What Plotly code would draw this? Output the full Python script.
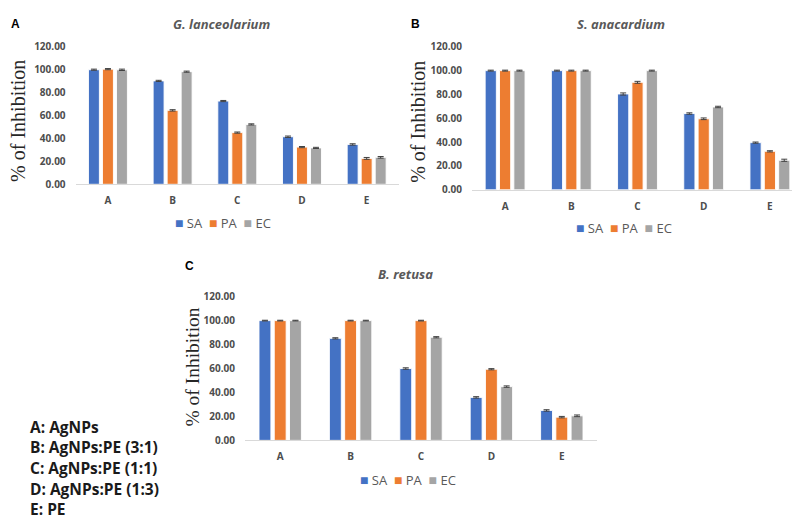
import plotly.graph_objects as go

W, H = 800, 519

categories = ["A", "B", "C", "D", "E"]
series_names = ["SA", "PA", "EC"]
colors = ["#4472C4", "#ED7D31", "#A5A5A5"]

# Panel A: G. lanceolarium
ga_sa = [99.5, 89.8, 72.3, 41.3, 34.6]
ga_pa = [100.0, 64.2, 44.9, 32.3, 22.5]
ga_ec = [99.4, 97.8, 52.0, 31.6, 23.4]
ga_err_sa = [0.5, 0.5, 0.5, 0.6, 0.6]
ga_err_pa = [0.5, 0.6, 0.5, 0.5, 0.8]
ga_err_ec = [0.6, 0.5, 0.5, 0.5, 0.7]

# Panel B: S. anacardium
sa_sa = [100.0, 100.0, 80.4, 64.0, 39.6]
sa_pa = [100.0, 100.0, 90.2, 59.6, 32.3]
sa_ec = [100.0, 100.0, 100.0, 69.5, 24.8]
sa_err_sa = [0.4, 0.4, 0.9, 0.6, 0.5]
sa_err_pa = [0.4, 0.4, 0.8, 0.7, 0.5]
sa_err_ec = [0.4, 0.4, 0.4, 0.6, 0.9]

# Panel C: B. retusa
br_sa = [100.0, 85.2, 60.0, 35.9, 25.0]
br_pa = [100.0, 100.0, 100.0, 59.4, 19.4]
br_ec = [100.0, 100.0, 86.1, 44.9, 20.5]
br_err_sa = [0.3, 0.5, 0.6, 0.6, 0.6]
br_err_pa = [0.3, 0.3, 0.3, 0.5, 0.6]
br_err_ec = [0.3, 0.3, 0.5, 0.6, 0.7]

titles = ["G. lanceolarium", "S. anacardium", "B. retusa"]
panel_letters = ["A", "B", "C"]
y_title = "% of Inhibition"
y_ticks = [0, 20, 40, 60, 80, 100, 120]
key_lines = ["A: AgNPs", "B: AgNPs:PE (3:1)", "C: AgNPs:PE (1:1)",
             "D: AgNPs:PE (1:3)", "E: PE"]

panels = [
    ([ga_sa, ga_pa, ga_ec], [ga_err_sa, ga_err_pa, ga_err_ec]),
    ([sa_sa, sa_pa, sa_ec], [sa_err_sa, sa_err_pa, sa_err_ec]),
    ([br_sa, br_pa, br_ec], [br_err_sa, br_err_pa, br_err_ec]),
]

# pixel layout (left, right, y of zero, y of 120)
boxes = [
    (67.6, 391.0, 173.3, 31.0),
    (464.0, 795.0, 179.0, 31.7),
    (237.0, 589.0, 437.0, 289.0),
]

SANS = "Open Sans, Calibri, sans-serif"

def px(x):
    return x / W

def py(y):
    return 1 - y / H

fig = go.Figure()
axis_ids = ["", "2", "3"]
for p, ((vals, errs), box) in enumerate(zip(panels, boxes)):
    aid = axis_ids[p]
    for s in range(3):
        fig.add_trace(go.Bar(
            x=categories, y=vals[s], name=series_names[s],
            marker=dict(color=colors[s], line=dict(color="rgba(255,255,255,0.9)", width=1)),
            error_y=dict(type="data", array=errs[s], visible=True,
                         color="#404040", thickness=1, width=3),
            xaxis="x" + aid, yaxis="y" + aid, showlegend=False,
            offsetgroup=str(s),
        ))
    l, r, y0, y1 = box
    tickfont = dict(family=SANS, size=10, color="#4d4d4d", weight="bold")
    fig.layout["xaxis" + aid] = dict(
        domain=[px(l), px(r)], anchor="y" + aid, showline=True, linecolor="#D9D9D9",
        linewidth=1, ticks="", showgrid=False, zeroline=False, tickfont=tickfont,
        ticklabelstandoff=7, fixedrange=True,
    )
    fig.layout["yaxis" + aid] = dict(
        domain=[py(y0), py(y1)], anchor="x" + aid, range=[0, 120], tickvals=y_ticks,
        tickformat=".2f", showgrid=False, zeroline=False, showline=False, ticks="",
        tickfont=tickfont, ticklabelstandoff=9, fixedrange=True,
    )

ann = []
# titles
title_pos = [(213, 8), (613, 8), (397, 266)]
for t, (x, y) in zip(titles, title_pos):
    ann.append(dict(text="<b><i>" + t + "</i></b>", x=px(x), y=py(y), xref="paper", yref="paper",
                    xanchor="center", yanchor="middle", showarrow=False,
                    font=dict(family=SANS, size=13, color="#595959")))
# panel letters
letter_pos = [(7.5, 8), (407.5, 8), (181, 257)]
for t, (x, y) in zip(panel_letters, letter_pos):
    ann.append(dict(text="<b>" + t + "</b>", x=px(x), y=py(y), xref="paper", yref="paper",
                    xanchor="center", yanchor="middle", showarrow=False,
                    font=dict(family="Liberation Sans, Arial, sans-serif", size=12, color="#000000")))
# y-axis titles
ytitle_pos = [(10, 108, 20), (410, 109, 20), (185, 362, 19.5)]
for (x, y, s) in ytitle_pos:
    ann.append(dict(text=y_title, x=px(x), y=py(y), xref="paper", yref="paper",
                    xanchor="center", yanchor="middle", showarrow=False, textangle=-90,
                    font=dict(family="Liberation Serif, Times New Roman, serif", size=s, color="#262626")))
# legends
legend_pos = [(215, 213), (616, 218), (400, 477)]
leg_text = "&nbsp;&nbsp;".join(
    "<span style='color:%s;font-size:14px'>■</span>&nbsp;%s" % (c, n)
    for c, n in zip(colors, series_names))
for (x, y) in legend_pos:
    ann.append(dict(text=leg_text, x=px(x), y=py(y), xref="paper", yref="paper",
                    xanchor="center", yanchor="middle", showarrow=False,
                    font=dict(family=SANS, size=13, color="#595959")))
# category key
key_y = [423, 444, 465, 487, 508]
for t, y in zip(key_lines, key_y):
    ann.append(dict(text="<b>" + t + "</b>", x=px(20), y=py(y), xref="paper", yref="paper",
                    xanchor="left", yanchor="middle", showarrow=False,
                    font=dict(family=SANS, size=15.5, color="#1a1a1a")))

fig.update_layout(
    width=W, height=H, margin=dict(l=0, r=0, t=0, b=0),
    paper_bgcolor="white", plot_bgcolor="white",
    barmode="group", bargap=0.35, bargroupgap=0.22,
    annotations=ann, showlegend=False,
)

fig.write_html("out.html", config={"displayModeBar": False})
